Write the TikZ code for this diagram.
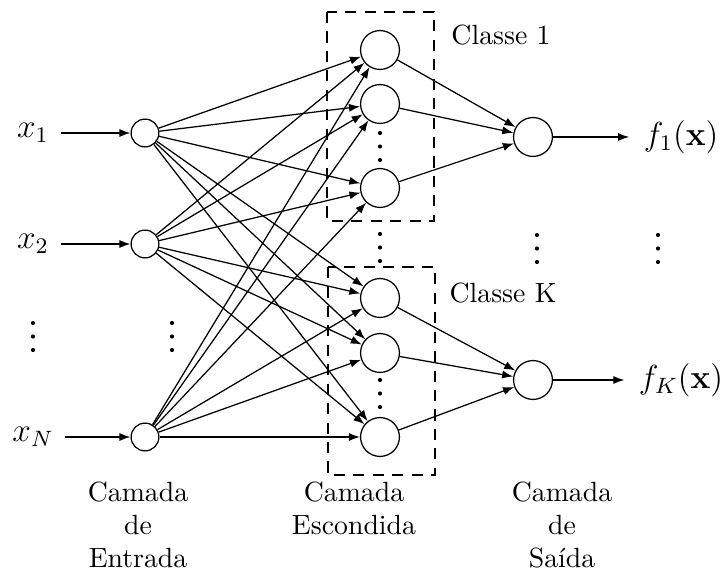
\documentclass[tikz,border=0pt]{standalone}
\usetikzlibrary{arrows.meta}
\begin{document}
\begin{tikzpicture}[x=0.36pt,y=-0.36pt,
  line width=0.45pt,
  inode/.style={circle,draw,minimum size=10pt,inner sep=0pt},
  hnode/.style={circle,draw,minimum size=14pt,inner sep=0pt},
  mlabel/.style={font=\large,inner sep=2pt},
  arr/.style={-{Latex[length=4pt,width=2.9pt]}},
  boxline/.style={dash pattern=on 4pt off 3pt},
  layerlabel/.style={align=center,anchor=north,inner sep=0pt}]
\useasboundingbox (0,0) rectangle (722,571);
% dashed boxes
\draw[boxline] (327,12) rectangle (434,221);
\draw[boxline] (328,267) rectangle (435,475);
% input nodes
\node[inode] (i1) at (145,133) {};
\node[inode] (i2) at (145,244) {};
\node[inode] (iN) at (145,437) {};
% hidden nodes
\node[hnode] (h1) at (380,50) {};
\node[hnode] (h2) at (380,104) {};
\node[hnode] (h3) at (380,188) {};
\node[hnode] (h4) at (380,298) {};
\node[hnode] (h5) at (380,353) {};
\node[hnode] (h6) at (380,437) {};
% output nodes
\node[hnode] (o1) at (533,137) {};
\node[hnode] (oK) at (533,380) {};
% input labels
\node[mlabel] (l1) at (33,133) {$x_1$};
\node[mlabel] (l2) at (33,244) {$x_2$};
\node[mlabel] (lN) at (33,437) {$x_N$};
% output labels
\node[mlabel] (f1) at (681,137) {$f_1(\mathbf{x})$};
\node[mlabel] (fK) at (681,380) {$f_K(\mathbf{x})$};
% class labels
\node (c1) at (501,35) {Classe 1};
\node (cK) at (503,293) {Classe K};
% layer labels
\node[layerlabel] (le) at (138,481) {Camada\\de\\Entrada};
\node[layerlabel] (lh) at (354,481) {Camada\\Escondida};
\node[layerlabel] (ls) at (562,481) {Camada\\de\\Sa\'{\i}da};
% connectors
\draw[arr,shorten <=2pt] (l1) -- (i1);
\draw[arr,shorten <=2pt] (l2) -- (i2);
\draw[arr,shorten <=2pt] (lN) -- (iN);
\foreach \i in {i1,i2,iN}
  \foreach \h in {h1,h2,h3,h4,h5,h6}
    \draw[arr] (\i) -- (\h);
\foreach \h in {h1,h2,h3}
  \draw[arr] (\h) -- (o1);
\foreach \h in {h4,h5,h6}
  \draw[arr] (\h) -- (oK);
\draw[arr,shorten >=3pt] (o1) -- (f1);
\draw[arr,shorten >=3pt] (oK) -- (fK);
% vertical dots
\foreach \x/\y in {33/323,172/323,380/133,380/234,380/380,537/235,658/235}
  \foreach \d in {0,13.5,27}
    \fill (\x,\y+\d) circle (0.75pt);
\end{tikzpicture}
\end{document}
